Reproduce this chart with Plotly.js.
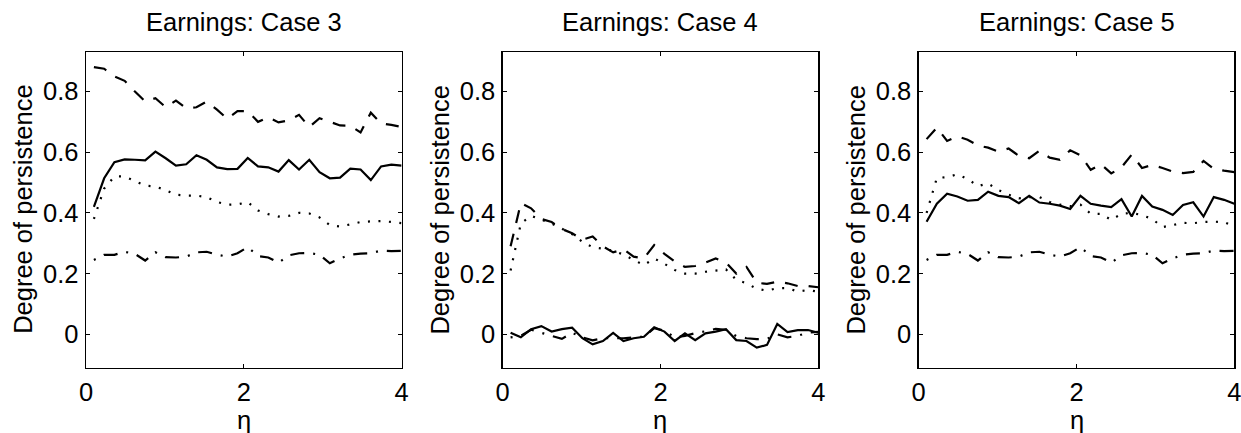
<!DOCTYPE html>
<html>
<head>
<meta charset="utf-8">
<script src="https://cdn.plot.ly/plotly-3.0.1.min.js"></script>
<style>
  html, body { margin: 0; padding: 0; background: #ffffff; }
  #chart { width: 1241px; height: 433px; }
</style>
</head>
<body>
<div id="chart"></div>
<script>
// Persistence estimates against eta for three earnings cases.
const eta = [0.10, 0.23, 0.36, 0.49, 0.62, 0.75, 0.88, 1.01, 1.14, 1.27, 1.40,
             1.53, 1.66, 1.79, 1.92, 2.05, 2.18, 2.31, 2.44, 2.57, 2.70, 2.83,
             2.96, 3.09, 3.22, 3.35, 3.48, 3.61, 3.74, 3.87, 4.00];

const xTicks = [0, 2, 4];
const yTicks = [0, 0.2, 0.4, 0.6, 0.8];
const panelTitles = ['Earnings: Case 3', 'Earnings: Case 4', 'Earnings: Case 5'];
const xLabel = 'η';
const yLabel = 'Degree of persistence';

// Case 3
const case3Solid = [0.42, 0.514, 0.567, 0.576, 0.575, 0.573, 0.602, 0.58, 0.556, 0.56, 0.59,
                    0.575, 0.55, 0.544, 0.545, 0.581, 0.553, 0.55, 0.536, 0.574, 0.543, 0.575,
                    0.534, 0.514, 0.516, 0.546, 0.543, 0.508, 0.553, 0.559, 0.556];
const case3Dotted = [0.38, 0.48, 0.52, 0.52, 0.505, 0.49, 0.487, 0.475, 0.46, 0.457, 0.457,
                     0.452, 0.436, 0.427, 0.428, 0.435, 0.408, 0.396, 0.388, 0.39, 0.40, 0.398,
                     0.385, 0.36, 0.355, 0.362, 0.37, 0.372, 0.373, 0.37, 0.366];
const case3Dashed = [0.88, 0.875, 0.85, 0.835, 0.80, 0.767, 0.778, 0.748, 0.77, 0.745, 0.748,
                     0.767, 0.74, 0.71, 0.735, 0.735, 0.70, 0.715, 0.698, 0.705, 0.723, 0.683,
                     0.712, 0.70, 0.688, 0.687, 0.665, 0.73, 0.695, 0.69, 0.683];
const case3DashDot = [0.245, 0.262, 0.262, 0.272, 0.265, 0.243, 0.27, 0.254, 0.253, 0.256, 0.27,
                      0.272, 0.262, 0.256, 0.267, 0.287, 0.258, 0.253, 0.236, 0.26, 0.267, 0.268,
                      0.262, 0.234, 0.25, 0.262, 0.266, 0.267, 0.276, 0.274, 0.275];

// Case 4
const case4Solid = [0.005, -0.01, 0.017, 0.027, 0.009, 0.017, 0.022, -0.013, -0.033, -0.022, 0.005,
                    -0.022, -0.013, -0.008, 0.023, 0.009, -0.022, 0.003, -0.019, 0.003, 0.009, 0.017,
                    -0.019, -0.022, -0.044, -0.035, 0.034, 0.007, 0.014, 0.014, 0.005];
const case4Dotted = [0.21, 0.365, 0.39, 0.378, 0.365, 0.348, 0.33, 0.305, 0.287, 0.282, 0.275,
                     0.263, 0.245, 0.228, 0.25, 0.232, 0.212, 0.20, 0.20, 0.206, 0.21, 0.214,
                     0.18, 0.168, 0.15, 0.144, 0.152, 0.152, 0.141, 0.146, 0.14];
const case4Dashed = [0.29, 0.432, 0.415, 0.38, 0.37, 0.347, 0.333, 0.312, 0.322, 0.29, 0.27,
                     0.28, 0.256, 0.25, 0.294, 0.265, 0.24, 0.222, 0.225, 0.236, 0.25, 0.236,
                     0.20, 0.222, 0.17, 0.166, 0.173, 0.168, 0.159, 0.159, 0.155];
const case4DashDot = [-0.01, -0.005, 0.015, 0.005, -0.005, -0.015, 0.005, -0.01, -0.02, -0.013, -0.013,
                      -0.013, -0.01, -0.008, 0.02, 0.012, -0.01, -0.005, 0.004, 0.01, 0.018, 0.015,
                      -0.006, -0.013, -0.016, -0.015, 0.0, -0.01, -0.005, 0.006, 0.008];

// Case 5
const case5Solid = [0.371, 0.43, 0.463, 0.454, 0.44, 0.443, 0.47, 0.456, 0.452, 0.432, 0.456,
                    0.434, 0.43, 0.424, 0.413, 0.456, 0.43, 0.424, 0.419, 0.445, 0.388, 0.456,
                    0.421, 0.41, 0.393, 0.426, 0.435, 0.388, 0.452, 0.443, 0.43];
const case5Dotted = [0.40, 0.515, 0.518, 0.527, 0.512, 0.488, 0.497, 0.475, 0.46, 0.448, 0.452,
                     0.452, 0.436, 0.427, 0.422, 0.427, 0.397, 0.397, 0.377, 0.397, 0.40, 0.393,
                     0.38, 0.353, 0.36, 0.367, 0.366, 0.37, 0.371, 0.37, 0.355];
const case5Dashed = [0.643, 0.681, 0.637, 0.652, 0.641, 0.622, 0.615, 0.602, 0.612, 0.588, 0.58,
                     0.605, 0.582, 0.575, 0.606, 0.59, 0.542, 0.56, 0.53, 0.55, 0.592, 0.548,
                     0.558, 0.548, 0.536, 0.531, 0.535, 0.571, 0.545, 0.539, 0.534];
const case5DashDot = [0.245, 0.262, 0.262, 0.272, 0.265, 0.243, 0.27, 0.254, 0.253, 0.256, 0.27,
                      0.272, 0.262, 0.256, 0.267, 0.287, 0.258, 0.253, 0.236, 0.26, 0.267, 0.268,
                      0.262, 0.234, 0.25, 0.262, 0.266, 0.267, 0.276, 0.274, 0.275];

const panels = [
  {solid: case3Solid, dotted: case3Dotted, dashed: case3Dashed, dashdot: case3DashDot},
  {solid: case4Solid, dotted: case4Dotted, dashed: case4Dashed, dashdot: case4DashDot},
  {solid: case5Solid, dotted: case5Dotted, dashed: case5Dashed, dashdot: case5DashDot}
];

// Figure geometry in pixels
const W = 1241, H = 433;
const plotLeft = [86, 502.7, 918.7];
const plotWidth = 315.6;
const plotTop = 52, plotBottom = 367.7;

const lineStyles = {
  solid:   'solid',
  dotted:  '2px,8.5px',
  dashed:  '13px,11px',
  dashdot: '2px,9px,14px,9px'
};
const drawOrder = ['dashed', 'dotted', 'dashdot', 'solid'];

const font = {family: 'Liberation Sans, Arial, Helvetica, sans-serif', size: 25.5, color: '#000'};

const traces = [];
panels.forEach((p, i) => {
  const ax = i === 0 ? '' : String(i + 1);
  drawOrder.forEach(key => {
    traces.push({
      x: eta, y: p[key], type: 'scatter', mode: 'lines',
      xaxis: 'x' + ax, yaxis: 'y' + ax,
      line: {color: '#000', width: 2.2, dash: lineStyles[key], shape: 'linear', simplify: false},
      hoverinfo: 'skip', showlegend: false
    });
  });
});

const layout = {
  width: W, height: H,
  margin: {l: 0, r: 0, t: 0, b: 0, pad: 0},
  paper_bgcolor: '#fff', plot_bgcolor: '#fff',
  font: font,
  showlegend: false,
  annotations: []
};

const yDomain = [(H - plotBottom) / H, (H - plotTop) / H];

panels.forEach((p, i) => {
  const ax = i === 0 ? '' : String(i + 1);
  const d0 = plotLeft[i] / W, d1 = (plotLeft[i] + plotWidth) / W;
  const common = {
    showline: true, linecolor: '#000', linewidth: 1.4, mirror: 'ticks',
    ticks: 'inside', ticklen: 4, tickwidth: 1, tickcolor: '#000',
    showgrid: false, zeroline: false, fixedrange: true,
    tickfont: font, ticklabeloverflow: 'allow'
  };
  layout['xaxis' + ax] = Object.assign({}, common, {
    domain: [d0, d1], range: [0, 4], tickvals: xTicks, ticktext: xTicks.map(String),
    anchor: 'y' + ax, ticklabelstandoff: 1
  });
  layout['yaxis' + ax] = Object.assign({}, common, {
    domain: yDomain, range: [-0.11, 0.93], tickvals: yTicks, ticktext: yTicks.map(String),
    anchor: 'x' + ax, ticklabelstandoff: 1
  });
  const cx = (d0 + d1) / 2;
  layout.annotations.push({
    text: panelTitles[i], xref: 'paper', yref: 'paper', x: cx, y: (H - 22) / H,
    xanchor: 'center', yanchor: 'middle', showarrow: false, font: font
  });
  layout.annotations.push({
    text: xLabel, xref: 'paper', yref: 'paper', x: cx, y: (H - 420) / H,
    xanchor: 'center', yanchor: 'middle', showarrow: false, font: font
  });
  layout.annotations.push({
    text: yLabel, xref: 'paper', yref: 'paper', x: (plotLeft[i] - 63) / W,
    y: (yDomain[0] + yDomain[1]) / 2, textangle: -90,
    xanchor: 'center', yanchor: 'middle', showarrow: false, font: font
  });
});

Plotly.newPlot('chart', traces, layout, {staticPlot: true, displayModeBar: false});
</script>
</body>
</html>
